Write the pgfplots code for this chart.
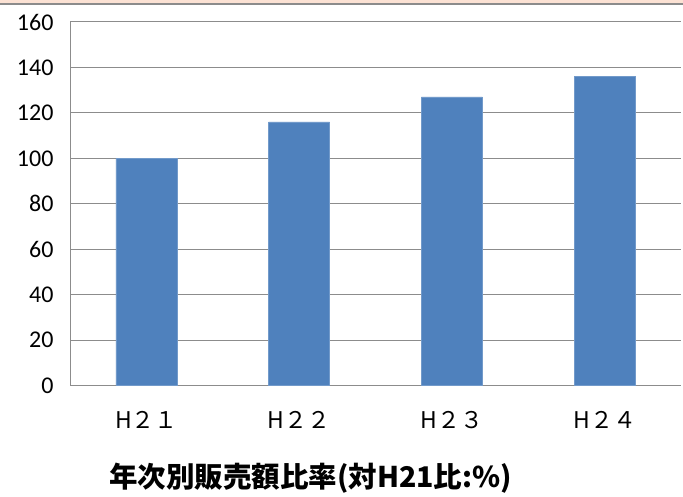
\documentclass[border=0pt]{standalone}
\usepackage{fontspec}
\setmainfont{Carlito}
\newfontfamily\cjk{Noto Sans CJK JP}
\usepackage{pgfplots}
\pgfplotsset{compat=1.18}
\definecolor{barblue}{HTML}{4F81BD}
\definecolor{gridgray}{HTML}{8C8C8C}
\definecolor{band}{HTML}{FCE2D4}

\begin{document}
\begin{tikzpicture}
\path[use as bounding box] (0,0) rectangle (683pt,497pt);
\fill[band] (0,494pt) rectangle (683pt,497pt);
\draw[gridgray, line width=1.2pt] (0,493pt) -- (683pt,493pt);
\begin{axis}[
    at={(70pt,111.5pt)}, anchor=south west,
    scale only axis,
    width=611pt, height=363.5pt,
    xmin=-0.5, xmax=3.5,
    ymin=0, ymax=160,
    ytick={0,20,...,160},
    xtick={0,1,2,3},
    xticklabels={H２１,H２２,H２３,H２４},
    axis x line=bottom, axis y line=left,
    axis line style={gridgray, line width=1pt, -},
    ymajorgrids=true,
    grid style={gridgray, line width=1pt},
    major tick length=0pt,
    tick label style={font=\fontsize{24}{27}\selectfont},
    y tick label style={xshift=-13pt},
    x tick label style={font=\cjk\fontsize{23}{26}\selectfont, yshift=-22pt},
    /pgf/number format/assume math mode=true,
    clip=false,
]
\addplot[ybar, bar width=0.4, fill=barblue, draw=barblue!80!white, line width=0.6pt]
  coordinates {(0,100) (1,116) (2,127) (3,136)};
\end{axis}
\node[anchor=west, inner sep=0pt, font=\cjk\bfseries\fontsize{28.5}{31}\selectfont] at (109pt,19pt) {年次別販売額比率(対H21比:\%)};
\end{tikzpicture}
\end{document}
